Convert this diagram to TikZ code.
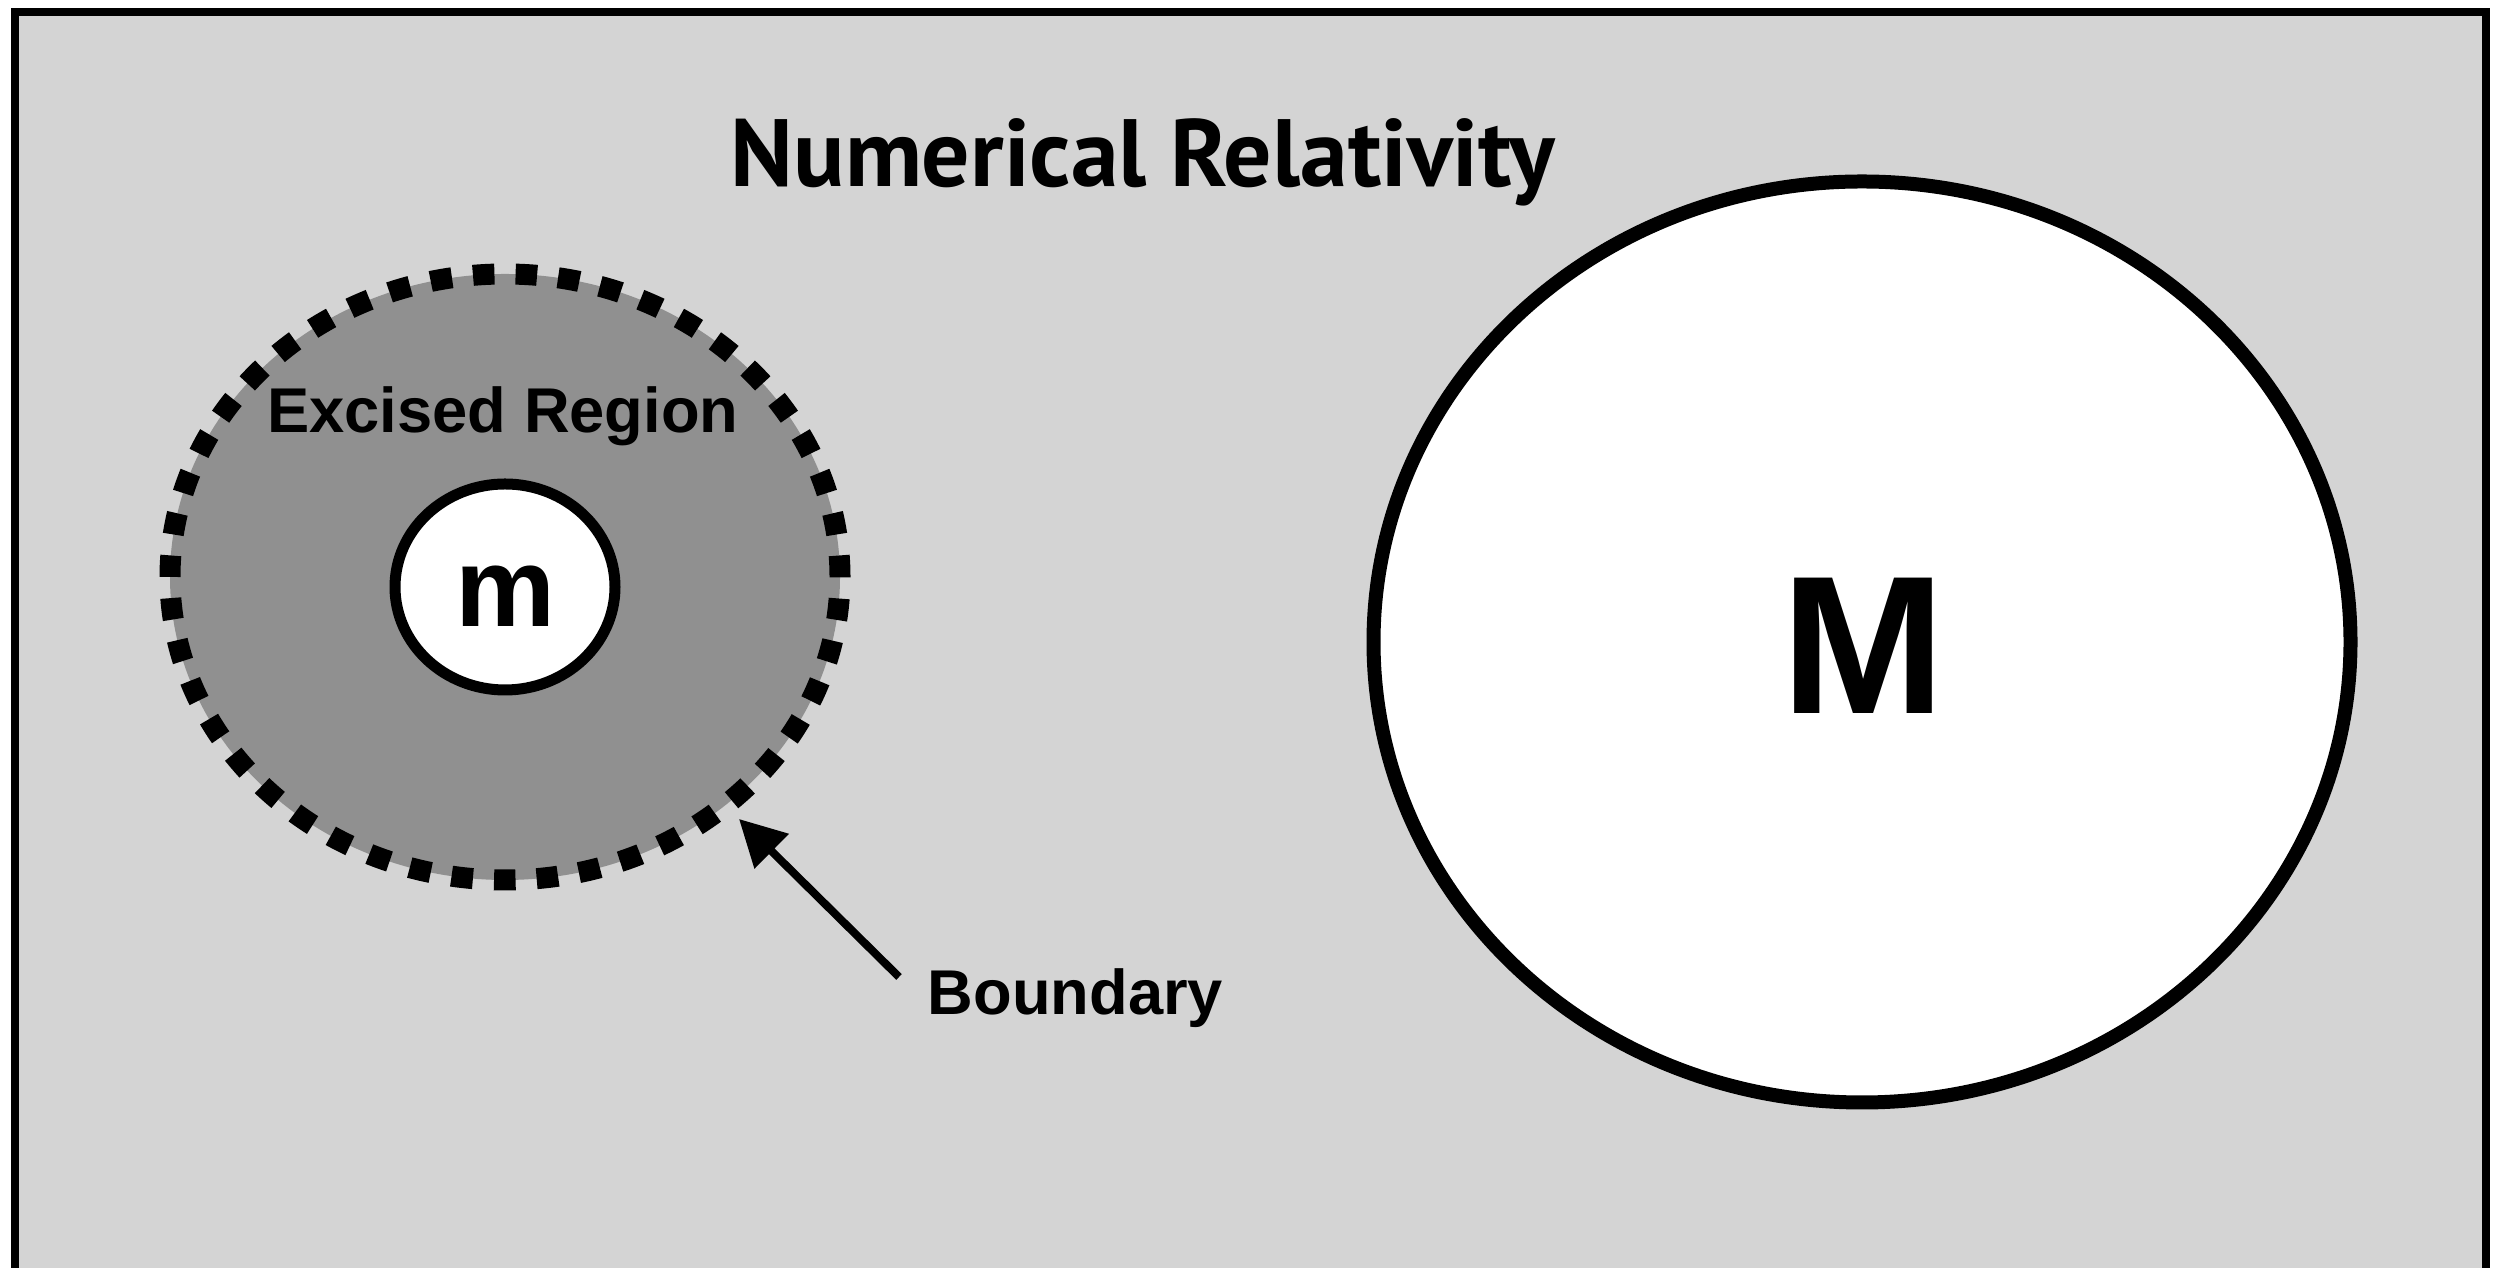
\documentclass[tikz,border=0pt]{standalone}
\usepackage{fontspec}
\setmainfont{Liberation Sans}
\newfontfamily\titlefont{PT Sans}
\usetikzlibrary{arrows.meta}
\definecolor{bggray}{HTML}{D4D4D4}
\definecolor{excgray}{HTML}{909090}
\begin{document}
\begin{tikzpicture}[lbl/.style={font=\bfseries\fontsize{18}{20}\selectfont, inner sep=0pt}]
                    \useasboundingbox (0,0) rectangle (25.03,12.68);
                    % Frame
                    \fill[white] (0,0) rectangle (25.03,12.68);
                    \draw[line width=0.08cm, fill=bggray] (0.15,-1) -- (0.15,12.56) -- (24.86,12.56) -- (24.86,-1);
                    \node[anchor=base, inner sep=0pt] (title) at (11.43,10.81) {\titlefont\bfseries\fontsize{27.2}{30}\selectfont Numerical Relativity};
                    % Excised region
                    \fill[excgray] (5.05,6.91) ellipse [x radius=3.35, y radius=3.03];
                    \draw[line width=0.21cm, dash pattern=on 0.215cm off 0.2117cm] (5.05,6.91) ellipse [x radius=3.35, y radius=3.03];
                    \node[lbl, anchor=base] (excised) at (5.03,8.35) {Excised Region};
                    \draw[line width=0.11cm, fill=white] (5.05,6.81) ellipse [x radius=1.10, y radius=1.03];
                    \node[anchor=base, inner sep=0pt, font=\bfseries\fontsize{32}{34}\selectfont] (small) at (5.05,6.41) {m};
                    % Boundary arrow
                    \coordinate (tip) at (7.39,4.49);
                    \coordinate (tail) at (8.99,2.91);
                    \node[lbl, anchor=base west] (boundary) at (9.27,2.53) {Boundary};
                    \draw[-{Triangle[length=0.46cm, width=0.47cm]}, line width=0.08cm] (tail) -- (tip);
                    % Large mass
                    \draw[line width=0.14cm, fill=white] (18.62,6.26) ellipse [x radius=4.885, y radius=4.605];
                    \node[anchor=base, inner sep=0pt, font=\bfseries\fontsize{56}{60}\selectfont] (large) at (18.63,5.54) {M};
\end{tikzpicture}
\end{document}
